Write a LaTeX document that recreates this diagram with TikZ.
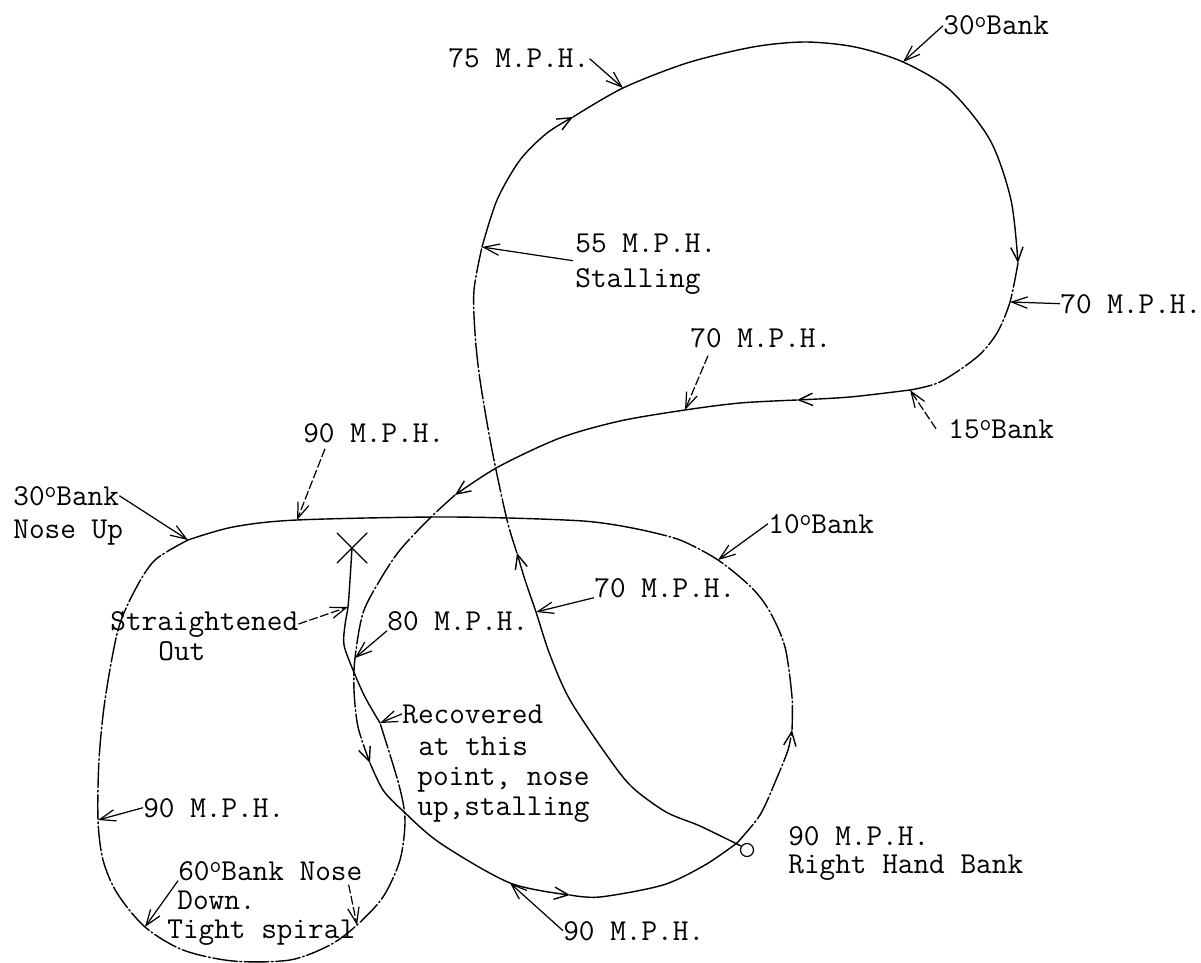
\documentclass[tikz,border=0pt]{standalone}
\usepackage{fontspec}
\usetikzlibrary{arrows.meta,calc}
\newcommand\degmark{\raisebox{0.55ex}{\fontsize{13}{13}\selectfont o}}
\begin{document}
\begin{tikzpicture}[x=0.02cm,y=-0.02cm,
  lbl/.style={font=\ttfamily\fontsize{17.3}{20}\selectfont, inner sep=0pt, anchor=base west},
  flight/.style={line width=0.8pt, line join=round, line cap=round},
  broken/.style={flight, dash pattern=on 14pt off 1.5pt on 1pt off 1.5pt},
  head/.style={-{Straight Barb[length=8pt,width=7pt]}},
  lead/.style={line width=0.7pt, -{Straight Barb[length=9pt,width=6.5pt]}},
  leaddash/.style={lead, dash pattern=on 5pt off 1.5pt},
]
\fill[white] (0,0) rectangle (1201,963);
\useasboundingbox (0,0) rectangle (1201,963);

% ---------- labels ----------
\node[lbl] (t75) at (448,68) {75 M.P.H.};
\node[lbl] (t30) at (943,35) {30\degmark Bank};
\node[lbl] (t55a) at (575,253) {55 M.P.H.};
\node[lbl] (t55b) at (575,287) {Stalling};
\node[lbl] (t70r) at (1060,313) {70 M.P.H.};
\node[lbl] (t70u) at (690,347) {70 M.P.H.};
\node[lbl] (t15) at (948,438) {15\degmark Bank};
\node[lbl] (t90t) at (303,442) {90 M.P.H.};
\node[lbl] (t30na) at (13,505) {30\degmark Bank};
\node[lbl] (t30nb) at (13,538) {Nose Up};
\node[lbl] (t10) at (768,533) {10\degmark Bank};
\node[lbl] (tStr) at (110,630) {Straightened};
\node[lbl] (tOut) at (158,660) {Out};
\node[lbl] (t80) at (387,630) {80 M.P.H.};
\node[lbl] (t70l) at (594,597) {70 M.P.H.};
\node[lbl] (tRa) at (402,723) {Recovered};
\node[lbl] (tRb) at (418,755) {at this};
\node[lbl] (tRc) at (417,785) {point, nose};
\node[lbl] (tRd) at (417,815) {up,stalling};
\node[lbl] (t90l) at (143,817) {90 M.P.H.};
\node[lbl] (t90ra) at (788,845) {90 M.P.H.};
\node[lbl] (t90rb) at (788,873) {Right Hand Bank};
\node[lbl] (t60a) at (178,880) {60\degmark Bank Nose};
\node[lbl] (t60b) at (177,909) {Down.};
\node[lbl] (t60c) at (167,938) {Tight spiral};
\node[lbl] (t90b) at (563,940) {90 M.P.H.};

% ---------- points on the flight path ----------
\coordinate (p75) at (623,88);
\coordinate (p30) at (903,62);
\coordinate (p55) at (482,247);
\coordinate (p70r) at (1010,302);
\coordinate (p70u) at (685,410);
\coordinate (p15) at (910,390);
\coordinate (p90t) at (297,520);
\coordinate (p30n) at (188,540);
\coordinate (p10) at (718,560);
\coordinate (pStr) at (348,607);
\coordinate (p80) at (355,658);
\coordinate (p70l) at (536,612);
\coordinate (pRec) at (380,723);
\coordinate (p90l) at (98,820);
\coordinate (p60) at (145,927);
\coordinate (pNose) at (357,925);
\coordinate (p90b) at (510,883);
\coordinate (xend) at (352,548);

% start circle
\node[draw, circle, line width=0.7pt, minimum size=0.26cm, inner sep=0pt] (start) at (747,850) {};

% ---------- flight path ----------
\draw[flight, head] plot[smooth] coordinates {(741,846) (700,826) (666,812) (632,787) (608,757) (570,700) (550,655) (536,612) (525,580) (517,553)};
\draw[broken] plot[smooth] coordinates {(517,553) (507,520) (492,450) (480,380) (475,333) (474,290) (482,247)};
\draw[flight, head] plot[smooth] coordinates {(482,247) (497,200) (520,160) (547,133) (573,117)};
\draw[flight, head] plot[smooth] coordinates {(573,117) (623,88) (687,63) (753,47) (805,42) (855,47) (903,62) (950,90) (990,140) (1011,200) (1018,263)};
\draw[broken] plot[smooth] coordinates {(1018,263) (1010,302) (997,333) (977,357) (940,382) (910,390)};
\draw[flight, head] plot[smooth] coordinates {(910,390) (850,397) (797,400)};
\draw[flight, head] plot[smooth] coordinates {(797,400) (740,403) (685,410) (620,421) (560,438) (498,467) (455,495)};
\draw[broken, head] plot[smooth] coordinates {(455,495) (430,518) (400,550) (380,580) (363,613) (355,658) (354,690) (358,727) (370,763)};
\draw[flight, head] plot[smooth] coordinates {(370,763) (383,790) (402,810) (440,843) (510,883) (570,895)};
\draw[flight] plot[smooth] coordinates {(570,895) (600,897) (663,885) (705,865) (737,843)};
\draw[broken, head] plot[smooth] coordinates {(737,843) (760,815) (776,780) (788,750) (792,730)};
\draw[broken] plot[smooth] coordinates {(792,730) (792,697) (785,647) (770,612) (752,588) (718,560) (680,540) (642,530)};
\draw[flight] plot[smooth] coordinates {(642,530) (583,521) (450,517) (297,520) (233,527) (188,540)};
\draw[broken] plot[smooth] coordinates {(188,540) (155,560) (135,590) (118,630) (105,700) (99,760) (98,820) (103,860) (117,893) (145,927) (183,950) (233,961) (290,960) (330,945) (357,925) (383,897) (400,860) (405,820) (399,785) (380,723)};
\draw[flight] plot[smooth] coordinates {(380,723) (365,697) (353,670) (344,645) (345,625) (348,607) (350,580) (352,548)};

% X end mark
\draw[flight] ($(xend)+(-15,-15)$) -- ($(xend)+(15,15)$);
\draw[flight] ($(xend)+(15,-15)$) -- ($(xend)+(-15,15)$);

% ---------- leaders ----------
\draw[lead] (t75.east) -- (p75);
\draw[lead] (t30.west) -- (p30);
\draw[lead] ($(t55a.south west)+(-2,7)$) -- (p55);
\draw[lead] (t70r.west) -- (p70r);
\draw[leaddash] ($(t70u.south west)+(18,8)$) -- (p70u);
\draw[leaddash] ($(t15.west)+(-12,0)$) -- (p15);
\draw[leaddash] ($(t90t.south west)+(22,6)$) -- (p90t);
\draw[lead] (t30na.east) -- (p30n);
\draw[lead] (t10.west) -- (p10);
\draw[leaddash] (tStr.east) -- (pStr);
\draw[lead] (t80.south west) -- (p80);
\draw[lead] (t70l.south west) -- (p70l);
\draw[lead] (tRa.west) -- (pRec);
\draw[lead] (t90l.west) -- (p90l);
\draw[lead] (t60a.south west) -- (p60);
\draw[leaddash] ($(t60a.south east)+(-14,4)$) -- (pNose);
\draw[lead] (t90b.west) -- (p90b);
\end{tikzpicture}
\end{document}
